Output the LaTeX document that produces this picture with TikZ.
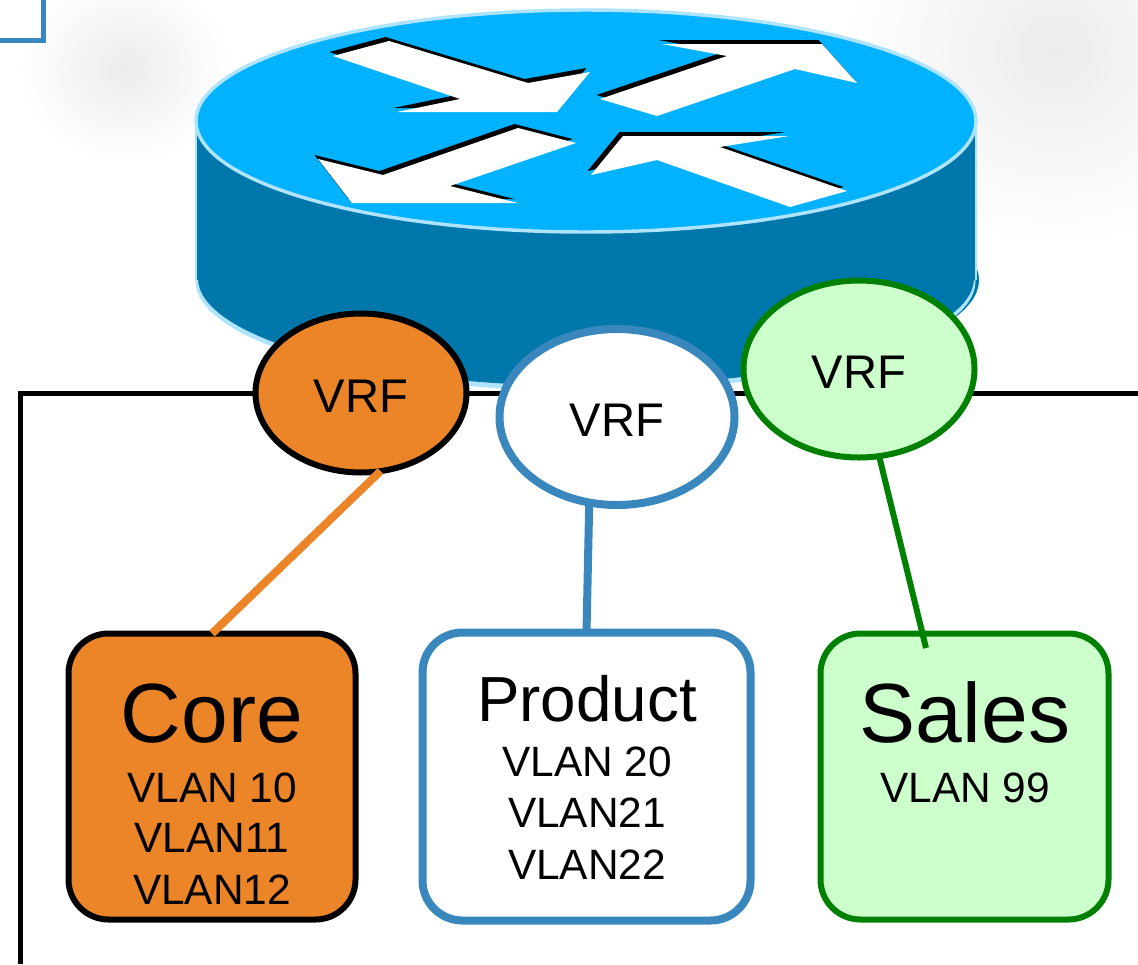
\documentclass[tikz,border=0pt]{standalone}
\usepackage{fontspec}
\setmainfont{Liberation Sans}
\usetikzlibrary{shapes.geometric}
\definecolor{orangec}{HTML}{EB8528}
\definecolor{bluec}{HTML}{3A87BD}
\definecolor{greenc}{HTML}{008000}
\definecolor{greenf}{HTML}{CCFFCC}
\definecolor{rtop}{HTML}{00B2FF}
\definecolor{rbody}{HTML}{0077AA}
\definecolor{rlight}{HTML}{AEE4FF}
\definecolor{shad}{HTML}{ECECEC}
\tikzset{
  vrf/.style={ellipse,inner sep=0pt,outer sep=0pt,text height=29pt,text depth=0pt,font=\fontsize{35.4}{40}\selectfont},
  vlanbox/.style={rectangle,rounded corners=30pt,inner sep=0pt,outer sep=0pt},
  bigtxt/.style={anchor=base,inner sep=0pt,font=\fontsize{63}{70}\selectfont},
  midtxt/.style={anchor=base,inner sep=0pt,font=\fontsize{47.8}{54}\selectfont},
  vlantxt/.style={anchor=base,inner sep=0pt,font=\fontsize{31.8}{36}\selectfont},
  link/.style={line cap=butt},
}
\newcommand{\arrowa}{(333,56) -- (389,41) -- (528,83) -- (590,72) -- (557,112) -- (397,112) -- (460,99) -- cycle}
\newcommand{\arrowb}{(600,99) -- (727,56) -- (662,44) -- (822,44) -- (857,83) -- (795,69) -- (657,116) -- cycle}
\newcommand{\arrowc}{(518,128) -- (576,143) -- (450,186) -- (518,203) -- (352,203) -- (318,159) -- (383,175) -- cycle}
\newcommand{\arrowd}{(591,175) -- (623,136) -- (789,136) -- (720,147) -- (847,191) -- (790,207) -- (657,160) -- cycle}
\begin{document}
\begin{tikzpicture}[x=0.75pt,y=-0.75pt]
\useasboundingbox (0,0) rectangle (1138,964);
% soft shadows
\begin{scope}
\clip (0,0) rectangle (1138,964);
\shade[inner color=shad,outer color=white] (125,68) ellipse [x radius=105,y radius=95];
\shade[inner color=shad,outer color=white] (1055,50) ellipse [x radius=210,y radius=195];
\end{scope}
% blue corner
\coordinate (cornerA) at (0,40);
\coordinate (cornerB) at (43.5,40);
\coordinate (cornerC) at (43.5,0);
\draw[bluec,line width=3.75pt,line join=miter] (cornerA) -- (cornerB) -- (cornerC);
% router
\fill[rbody] (589,280) ellipse [x radius=390,y radius=108];
\fill[rlight] (585.5,281) ellipse [x radius=390,y radius=110];
\fill[rbody] (586,278) ellipse [x radius=388,y radius=108];
\fill[rbody] (196,121) rectangle (976,280);
\draw[rlight,line width=2pt] (196,125) -- (196,280);
\draw[rlight,line width=2pt] (976,125) -- (976,280);
\draw[rlight,line width=2.6pt,fill=rtop] (586,121) ellipse [x radius=390,y radius=111];
\foreach \a in {\arrowa,\arrowb,\arrowc,\arrowd}{
  \fill[black,shift={(-3.5,-4)}] \a;
}
\fill[white] \arrowa;
\fill[white] \arrowb;
\fill[white] \arrowc;
\fill[white] \arrowd;
% frame
\coordinate (frameA) at (20,964);
\coordinate (frameB) at (20,393);
\coordinate (frameC) at (1138,393);
\draw[black,line width=3.75pt] (frameA) -- (frameB) -- (frameC);
% boxes
\node[vlanbox,draw=black,fill=orangec,line width=4.5pt,minimum width=215.25pt,minimum height=214.5pt] (core) at (212,776.5) {};
\node[vlanbox,draw=bluec,fill=white,line width=6pt,minimum width=246pt,minimum height=216pt] (product) at (586.5,776.5) {};
\node[vlanbox,draw=greenc,fill=greenf,line width=4.5pt,minimum width=216pt,minimum height=214.5pt] (sales) at (964.5,776.5) {};
% VRF ellipses
\node[vrf,draw=black,fill=orangec,line width=4.5pt,minimum width=158.25pt,minimum height=119.25pt] (vrfa) at (361,393) {VRF};
\node[vrf,draw=bluec,fill=white,line width=6pt,minimum width=176.25pt,minimum height=132pt] (vrfb) at (617,417) {VRF};
\node[vrf,draw=greenc,fill=greenf,line width=4.5pt,minimum width=173.25pt,minimum height=132.75pt] (vrfc) at (859,369) {VRF};
% connectors
\coordinate (salesend) at (926,648);
\draw[link,orangec,line width=6pt] (vrfa.-76) -- (core.north);
\draw[link,bluec,line width=6pt] (vrfb.-108) -- (product.north);
\draw[link,greenc,line width=4.5pt] (vrfc.-77) -- (salesend);
% texts
\node[bigtxt] (t1) at (212,742) {Core};
\node[vlantxt] (t2) at (212,802) {VLAN 10};
\node[vlantxt] (t3) at (212,852) {VLAN11};
\node[vlantxt] (t4) at (212,904) {VLAN12};
\node[midtxt] (t5) at (587,721) {Product};
\node[vlantxt] (t6) at (587,776) {VLAN 20};
\node[vlantxt] (t7) at (587,827) {VLAN21};
\node[vlantxt] (t8) at (587,879) {VLAN22};
\node[bigtxt] (t9) at (965,742) {Sales};
\node[vlantxt] (t10) at (965,802) {VLAN 99};
\end{tikzpicture}
\end{document}
